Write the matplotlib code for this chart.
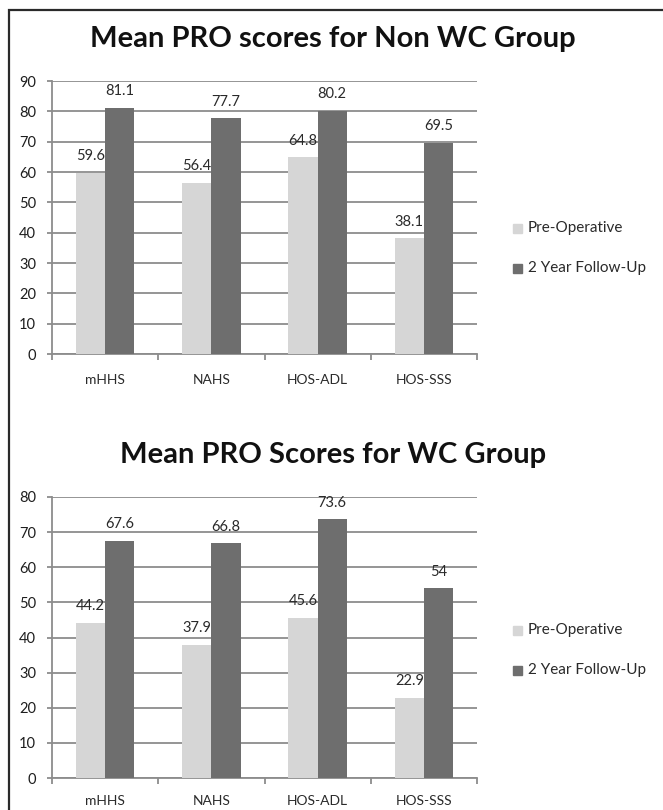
import matplotlib
matplotlib.use("Agg")
import matplotlib.pyplot as plt
import numpy as np
from matplotlib.patches import Rectangle

categories = ["mHHS", "NAHS", "HOS-ADL", "HOS-SSS"]
series_names = ["Pre-Operative", "2 Year Follow-Up"]
non_wc_pre = [59.6, 56.4, 64.8, 38.1]
non_wc_post = [81.1, 77.7, 80.2, 69.5]
wc_pre = [44.2, 37.9, 45.6, 22.9]
wc_post = [67.6, 66.8, 73.6, 54]
titles = ["Mean PRO scores for Non WC Group", "Mean PRO Scores for WC Group"]
ymaxes = [90, 80]

plt.rcParams['font.family'] = ['Lato', 'DejaVu Sans']

W, H = 663, 810
fig = plt.figure(figsize=(W / 100, H / 100), dpi=100)

light = "#d6d6d6"
dark = "#6e6e6e"
gridc = "#8c8c8c"
textc = "#2a2a2a"

AX_L, AX_R = 52, 477

def px_axes(left, right, top, bottom):
    return fig.add_axes([left / W, 1 - bottom / H, (right - left) / W, (bottom - top) / H])

panels = [
    dict(pre=non_wc_pre, post=non_wc_post, title=titles[0], ymax=ymaxes[0],
         top=81, bottom=354, title_base=47, xlab_y=380, leg_y=(228, 268)),
    dict(pre=wc_pre, post=wc_post, title=titles[1], ymax=ymaxes[1],
         top=497, bottom=778, title_base=463, xlab_y=801, leg_y=(630, 670)),
]

x = np.arange(len(categories))
bw = 0.275
for p in panels:
    ax = px_axes(AX_L, AX_R, p['top'], p['bottom'])
    ax.bar(x - bw / 2, p['pre'], bw, color=light, zorder=3)
    ax.bar(x + bw / 2, p['post'], bw, color=dark, zorder=3)
    for xs, vals in ((x - bw / 2, p['pre']), (x + bw / 2, p['post'])):
        for xi, v in zip(xs, vals):
            ax.annotate(f"{v:g}", (xi, v), xytext=(0, 7), textcoords='offset points',
                        ha='center', va='bottom', fontsize=10.5, color=textc, zorder=4)
    ax.set_xlim(-0.5, len(categories) - 0.5)
    ax.set_ylim(0, p['ymax'])
    ax.set_yticks(np.arange(0, p['ymax'] + 1, 10))
    ax.yaxis.grid(True, color=gridc, linewidth=1.3, zorder=0)
    ax.set_axisbelow(True)
    for s in ['top', 'right']:
        ax.spines[s].set_visible(False)
    for s in ['left', 'bottom']:
        ax.spines[s].set_color(gridc)
        ax.spines[s].set_linewidth(1.3)
    ax.set_xticks(np.arange(-0.5, len(categories), 1.0))
    ax.set_xticklabels([])
    ax.tick_params(axis='x', length=4, width=1.3, color=gridc, direction='out')
    ax.tick_params(axis='y', length=3.5, width=1.3, color=gridc, labelsize=10.5,
                   labelcolor="#1e1e1e", pad=8)
    for xi, c in zip(x, categories):
        fig.text((AX_L + (xi + 0.5) * (AX_R - AX_L) / 4) / W, 1 - p['xlab_y'] / H, c,
                 ha='center', va='center', fontsize=10, color=textc)
    fig.text(333 / W, 1 - p['title_base'] / H, p['title'], ha='center', va='baseline',
             fontsize=21, fontweight='bold', color="#111111")
    for ly, col, name in zip(p['leg_y'], [light, dark], series_names):
        fig.patches.append(Rectangle((513 / W, 1 - (ly + 4.5) / H), 9 / W, 9 / H,
                                     transform=fig.transFigure, color=col, figure=fig))
        fig.text(528 / W, 1 - ly / H, name, ha='left', va='center', fontsize=11, color=textc)

fig.patches.append(Rectangle((9 / W, -0.05), 1.1, 1 - 10 / H + 0.05, transform=fig.transFigure,
                             fill=False, edgecolor="#2a2a2a", linewidth=1.6, figure=fig))

fig.savefig("out.png", dpi=100)
